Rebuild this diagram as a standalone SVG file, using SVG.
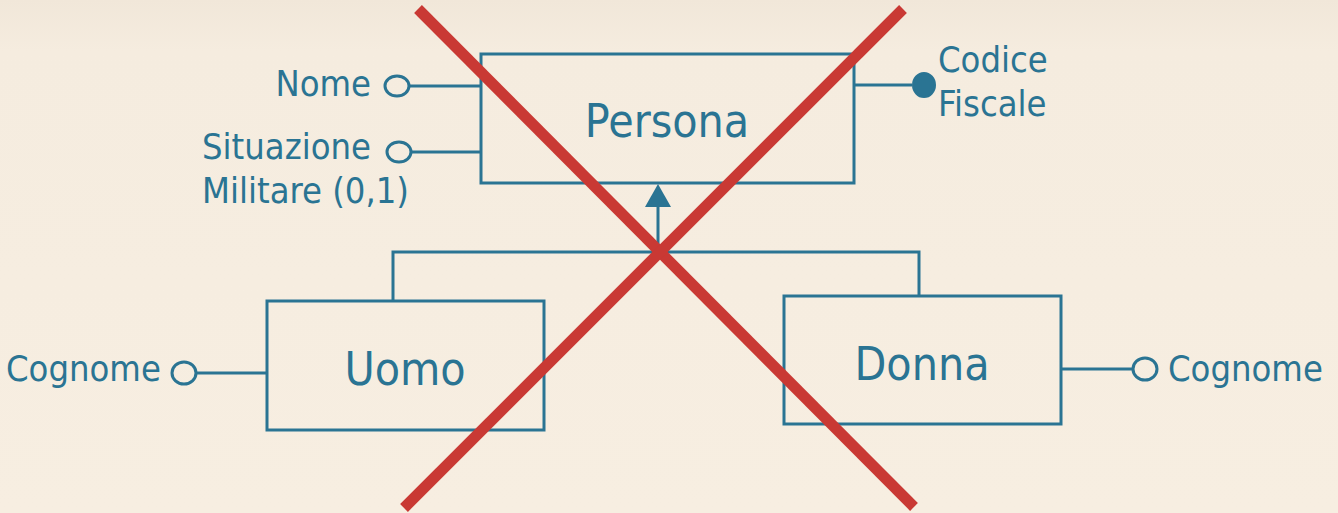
<svg xmlns="http://www.w3.org/2000/svg" width="1338" height="513" viewBox="0 0 1338 513">
<defs>
<linearGradient id="bg" x1="0" y1="0" x2="0" y2="1">
<stop offset="0" stop-color="#f1e7d9"/>
<stop offset="0.1" stop-color="#f5ecdf"/>
<stop offset="1" stop-color="#f7eee1"/>
</linearGradient>
<style>
.ent{fill:none;stroke:#2a7493;stroke-width:3}
.ln{fill:none;stroke:#2a7493;stroke-width:3}
.att{fill:none;stroke:#2a7493;stroke-width:3}
.key{fill:#2a7493;stroke:#2a7493;stroke-width:2}
.t{font-family:"DejaVu Sans Condensed","DejaVu Sans",sans-serif;fill:#2a7493}
.lab{font-size:36px}
.big{font-size:46px}
.x{stroke:#c93934;stroke-width:11;stroke-linecap:butt}
</style>
</defs>
<rect width="1338" height="513" fill="url(#bg)"/>
<g id="connectors">
<line class="ln" x1="409" y1="86" x2="481" y2="86"/>
<line class="ln" x1="411" y1="152" x2="481" y2="152"/>
<line class="ln" x1="854" y1="85" x2="912" y2="85"/>
<line class="ln" x1="196" y1="373" x2="267" y2="373"/>
<line class="ln" x1="1061" y1="369" x2="1133" y2="369"/>
<polyline class="ln" points="393,300 393,252 919,252 919,296"/>
<line class="ln" x1="658" y1="252" x2="658" y2="205"/>
<polygon points="658,184 645,207 671,207" fill="#2a7493"/>
</g>
<g id="persona">
<rect class="ent" x="481" y="54" width="373" height="129"/>
<text class="t big" x="667" y="137" text-anchor="middle">Persona</text>
</g>
<g id="attr-nome">
<ellipse class="att" cx="397" cy="86" rx="12" ry="10"/>
<text class="t lab" x="371" y="96" text-anchor="end">Nome</text>
</g>
<g id="attr-situazione">
<ellipse class="att" cx="399" cy="152" rx="12" ry="10"/>
<text class="t lab" x="202" y="159">Situazione</text>
<text class="t lab" x="202" y="203">Militare (0,1)</text>
</g>
<g id="attr-codice-fiscale">
<ellipse class="key" cx="924" cy="85" rx="11" ry="12"/>
<text class="t lab" x="938" y="72">Codice</text>
<text class="t lab" x="938" y="116">Fiscale</text>
</g>
<g id="uomo">
<rect class="ent" x="267" y="301" width="277" height="129"/>
<text class="t big" x="405" y="385" text-anchor="middle">Uomo</text>
</g>
<g id="attr-cognome-uomo">
<ellipse class="att" cx="184" cy="373" rx="12" ry="11"/>
<text class="t lab" x="6" y="381">Cognome</text>
</g>
<g id="donna">
<rect class="ent" x="784" y="296" width="277" height="128"/>
<text class="t big" x="922" y="380" text-anchor="middle">Donna</text>
</g>
<g id="attr-cognome-donna">
<ellipse class="att" cx="1145" cy="369" rx="12" ry="11"/>
<text class="t lab" x="1168" y="381">Cognome</text>
</g>
<g id="cross">
<line class="x" x1="418" y1="9" x2="914" y2="507"/>
<line class="x" x1="903" y1="9" x2="404" y2="508"/>
</g>
</svg>
